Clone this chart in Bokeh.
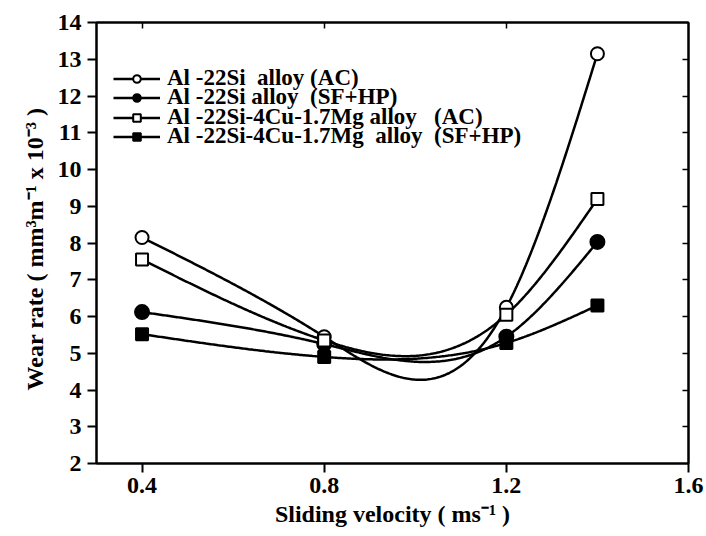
import numpy as np
from bokeh.plotting import figure
from bokeh.models import LinearAxis, FixedTicker, Legend, LegendItem, Range1d
from bokeh.embed import file_html
from bokeh.resources import INLINE

# ---- data ----
velocity = [0.4, 0.8, 1.2, 1.4]
al22si_ac = [8.15, 5.45, 6.25, 13.15]
al22si_sfhp = [6.12, 5.25, 5.45, 8.03]
al22si4cu_ac = [7.55, 5.35, 6.05, 9.20]
al22si4cu_sfhp = [5.52, 4.90, 5.28, 6.30]
series_labels = [
    "Al -22Si  alloy (AC)",
    "Al -22Si alloy  (SF+HP)",
    "Al -22Si-4Cu-1.7Mg alloy   (AC)",
    "Al -22Si-4Cu-1.7Mg  alloy  (SF+HP)",
]
x_ticks = [0.4, 0.8, 1.2, 1.6]
y_ticks = [2, 3, 4, 5, 6, 7, 8, 9, 10, 11, 12, 13, 14]
x_title = "Sliding velocity ( ms\u207b\u00b9 )"
y_title = "Wear rate ( mm\u00b3m\u207b\u00b9  x 10\u207b\u00b3  )"

FONT = "Liberation Serif"


def natural_spline(xs, ys, n=300):
    x = np.asarray(xs, float)
    y = np.asarray(ys, float)
    k = len(x)
    h = np.diff(x)
    A = np.zeros((k, k))
    b = np.zeros(k)
    A[0, 0] = 1
    A[-1, -1] = 1
    for i in range(1, k - 1):
        A[i, i - 1] = h[i - 1]
        A[i, i] = 2 * (h[i - 1] + h[i])
        A[i, i + 1] = h[i]
        b[i] = 3 * ((y[i + 1] - y[i]) / h[i] - (y[i] - y[i - 1]) / h[i - 1])
    c = np.linalg.solve(A, b)
    xx = np.linspace(x[0], x[-1], n)
    idx = np.clip(np.searchsorted(x, xx, side="right") - 1, 0, k - 2)
    dx = xx - x[idx]
    bc = (y[1:] - y[:-1]) / h - h * (2 * c[:-1] + c[1:]) / 3
    d = (c[1:] - c[:-1]) / (3 * h)
    yy = y[idx] + bc[idx] * dx + c[idx] * dx ** 2 + d[idx] * dx ** 3
    return xx, yy


p = figure(
    output_backend="svg", toolbar_location=None,
    width=706, height=536,
    x_range=Range1d(0.3, 1.6), y_range=Range1d(2, 14),
    min_border_left=96, min_border_right=18, min_border_top=22, min_border_bottom=73,
)
p.frame_width = 592
p.frame_height = 441
p.grid.visible = False
p.background_fill_color = "white"
p.border_fill_color = "white"
p.outline_line_color = "black"
p.outline_line_width = 2

for ax in [p.xaxis[0], p.yaxis[0]]:
    ax.axis_line_width = 2
    ax.major_tick_line_width = 2
    ax.major_tick_out = 9
    ax.major_tick_in = 0
    ax.minor_tick_line_color = None
    ax.major_label_text_font = FONT
    ax.major_label_text_font_style = "bold"
    ax.major_label_text_font_size = "24px"
    ax.major_label_text_color = "black"
    ax.axis_label_text_font = FONT
    ax.axis_label_text_font_style = "bold"
    ax.axis_label_text_font_size = "24px"
    ax.axis_label_text_color = "black"

p.xaxis[0].ticker = FixedTicker(ticks=x_ticks)
p.yaxis[0].ticker = FixedTicker(ticks=y_ticks)
p.xaxis[0].major_label_standoff = 5
p.yaxis[0].major_label_standoff = 6
p.xaxis[0].axis_label = x_title
p.yaxis[0].axis_label = y_title
p.xaxis[0].axis_label_standoff = 5
p.yaxis[0].axis_label_standoff = 7

top = LinearAxis(ticker=FixedTicker(ticks=x_ticks[:-1]), major_label_text_color=None,
                 major_tick_in=6, major_tick_out=0, minor_tick_line_color=None,
                 axis_line_width=2, major_tick_line_width=1.5)
right = LinearAxis(ticker=FixedTicker(ticks=y_ticks[1:-1]), major_label_text_color=None,
                   major_tick_in=6, major_tick_out=0, minor_tick_line_color=None,
                   axis_line_width=2, major_tick_line_width=1.5)
p.add_layout(top, "above")
p.add_layout(right, "right")

series = [al22si_ac, al22si_sfhp, al22si4cu_ac, al22si4cu_sfhp]
markers = ["circle", "circle", "square", "square"]
fills = ["white", "black", "white", "black"]
sizes = [13, 14, 12, 12]
legend_bottoms = [372, 353, 333, 314]

for vals, mk, fc, sz, lab, lb in zip(series, markers, fills, sizes, series_labels, legend_bottoms):
    xx, yy = natural_spline(velocity, vals)
    ln = p.line(xx, yy, line_color="black", line_width=2.5)
    sc = p.scatter(velocity, vals, marker=mk, size=sz, fill_color=fc,
                   line_color="black", line_width=2)
    lg = Legend(items=[LegendItem(label=lab, renderers=[ln, sc])], location=(17, lb))
    lg.label_text_font = FONT
    lg.label_text_font_style = "bold"
    lg.label_text_font_size = "23px"
    lg.label_text_color = "black"
    lg.glyph_width = 47
    lg.glyph_height = 19
    lg.label_height = 19
    lg.label_standoff = 7
    lg.spacing = 0
    lg.padding = 0
    lg.margin = 0
    lg.border_line_color = None
    lg.background_fill_alpha = 0
    p.add_layout(lg, "center")

open("out.html", "w").write(file_html(p, INLINE))
